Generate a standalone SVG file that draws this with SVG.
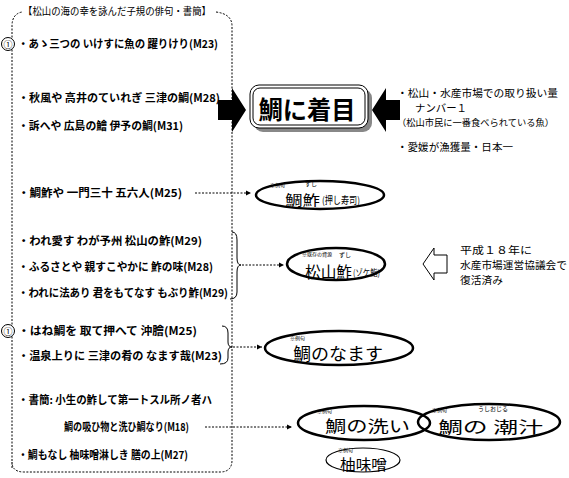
<svg xmlns="http://www.w3.org/2000/svg" width="569" height="478" viewBox="0 0 569 478">
<defs>
<style>
text{font-family:"Noto Sans CJK JP","Noto Sans CJK SC",sans-serif;fill:#000;}
.h{font-size:11px;font-weight:bold;}
.r{font-size:10.5px;}
.s{font-size:5px;}
.ru{font-size:6px;}
.el{fill:#fff;stroke:#000;stroke-width:2.5;}
.dash{fill:none;stroke:#000;stroke-width:1;stroke-dasharray:2,1.5;}
.conn{fill:none;stroke:#000;stroke-width:1;stroke-dasharray:2,1.5;}
.brace{fill:none;stroke:#000;stroke-width:1;}
</style>
<marker id="ah" markerWidth="6" markerHeight="6" refX="5" refY="3" orient="auto" markerUnits="userSpaceOnUse">
<path d="M0,0.5 L5,3 L0,5.5 z" fill="#000"/>
</marker>
</defs>
<rect width="569" height="478" fill="#fff"/>

<g id="panel">
<path class="dash" d="M12,468 L12,26 Q12,14 22,12 M216,12 Q232,14 232,26 L232,460 Q232,472 220,472 L24,472 Q12,472 12,462"/>
<text x="23" y="15" style="font-size:10px" textLength="188" lengthAdjust="spacingAndGlyphs">【松山の海の幸を詠んだ子規の俳句・書簡】</text>
</g>

<g id="haiku1">
<circle cx="8" cy="44" r="6.5" fill="#fff" stroke="#000" stroke-width="1"/>
<text x="8" y="47.5" style="font-size:9px" text-anchor="middle">①</text>
<text class="h" x="18" y="48" textLength="200" lengthAdjust="spacingAndGlyphs">・あゝ三つの いけすに魚の 躍りけり(M23)</text>
</g>
<g id="haiku2">
<text class="h" x="18" y="102" textLength="202" lengthAdjust="spacingAndGlyphs">・秋風や 高井のていれぎ 三津の鯛(M28)</text>
<text class="h" x="18" y="130" textLength="165" lengthAdjust="spacingAndGlyphs">・訴へや 広島の鱠 伊予の鯛(M31)</text>
</g>

<g id="focus">
<rect x="254" y="89" width="118" height="43" rx="9" fill="#888"/>
<rect x="250" y="85" width="118" height="43" rx="9" fill="#fff" stroke="#000" stroke-width="1"/>
<rect x="253" y="88" width="112" height="37" rx="7" fill="none" stroke="#000" stroke-width="1"/>
<text x="307" y="119" text-anchor="middle" style="font-size:25px;font-weight:bold" textLength="97" lengthAdjust="spacingAndGlyphs">鯛に着目</text>
</g>
<g id="arrowL"><path d="M218,100 L232,100 L232,88 L246,110 L232,132 L232,120 L218,120 z" fill="#000"/></g>
<g id="arrowR"><path d="M400,100 L386,100 L386,88 L372,110 L386,132 L386,120 L400,120 z" fill="#000"/></g>
<g id="facts">
<text class="r" x="397" y="97" textLength="161" lengthAdjust="spacingAndGlyphs">・松山・水産市場での取り扱い量</text>
<text class="r" x="415" y="112" textLength="52" lengthAdjust="spacingAndGlyphs">ナンバー１</text>
<text x="397" y="126" style="font-size:9.3px" textLength="157" lengthAdjust="spacingAndGlyphs">（松山市民に一番食べられている魚）</text>
<text class="r" x="397" y="151" textLength="116" lengthAdjust="spacingAndGlyphs">・愛媛が漁獲量・日本一</text>
</g>

<g id="haiku3">
<text class="h" x="18" y="197" textLength="164" lengthAdjust="spacingAndGlyphs">・鯛鮓や 一門三十 五六人(M25)</text>
</g>
<g id="haiku4">
<text class="h" x="18" y="245" textLength="184" lengthAdjust="spacingAndGlyphs">・われ愛す わが予州 松山の鮓(M29)</text>
<text class="h" x="18" y="271" textLength="195" lengthAdjust="spacingAndGlyphs">・ふるさとや 親すこやかに 鮓の味(M28)</text>
<text class="h" x="18" y="297" textLength="210" lengthAdjust="spacingAndGlyphs">・われに法あり 君をもてなす もぶり鮓(M29)</text>
</g>
<g id="haiku5">
<circle cx="8" cy="331" r="6.5" fill="#fff" stroke="#000" stroke-width="1"/>
<text x="8" y="334.5" style="font-size:9px" text-anchor="middle">①</text>
<text class="h" x="18" y="335" textLength="179" lengthAdjust="spacingAndGlyphs">・はね鯛を 取て押へて 沖膾(M25)</text>
<text class="h" x="18" y="360" textLength="204" lengthAdjust="spacingAndGlyphs">・温泉上りに 三津の肴の なます哉(M23)</text>
</g>
<g id="letters">
<text class="h" x="18" y="404" textLength="194" lengthAdjust="spacingAndGlyphs">・書簡: 小生の鮓して第一トスル所ノ者ハ</text>
<text class="h" x="64" y="431" textLength="125" lengthAdjust="spacingAndGlyphs">鯛の吸ひ物と洗ひ鯛なり(M18)</text>
<text class="h" x="18" y="459" textLength="170" lengthAdjust="spacingAndGlyphs">・鯛もなし 柚味噌淋しき 膳の上(M27)</text>
</g>

<g id="connectors">
<path class="brace" d="M232,232 Q237,232 237,240 L237,258 Q237,265 241,265 Q237,265 237,272 L237,292 Q237,299 230,299"/>
<path class="brace" d="M222,326 Q228,326 228,333 L228,342 Q228,347 232,347 Q228,347 228,352 L228,358 Q228,364 220,364"/>
<path class="conn" d="M195,193 L251,193" marker-end="url(#ah)"/>
<path class="conn" d="M242,265 L284,265" marker-end="url(#ah)"/>
<path class="conn" d="M233,347 L262,347" marker-end="url(#ah)"/>
<path class="conn" d="M205,427 L292,427" marker-end="url(#ah)"/>
</g>

<g id="sushi">
<ellipse class="el" cx="320" cy="195" rx="64" ry="14"/>
<text class="s" x="270" y="187">※例句</text>
<text class="ru" x="305" y="186">ずし</text>
<text x="285" y="205" style="font-size:14px" textLength="35" lengthAdjust="spacingAndGlyphs">鯛鮓</text>
<text x="322" y="204" style="font-size:10px" textLength="38" lengthAdjust="spacingAndGlyphs">(押し寿司)</text>
</g>
<g id="matsuyamazushi">
<ellipse class="el" cx="336" cy="264" rx="49" ry="16"/>
<text class="s" x="302" y="256">※既存の資源</text>
<text class="ru" x="339" y="257">ずし</text>
<text x="305" y="278" style="font-size:16px" textLength="47" lengthAdjust="spacingAndGlyphs">松山鮓</text>
<text x="353" y="276" style="font-size:9px" textLength="27" lengthAdjust="spacingAndGlyphs">(ゾケ鮨)</text>
</g>
<g id="revived">
<path d="M423,264 L434,248 L434,255 L447,255 L447,273 L434,273 L434,280 z" fill="#fff" stroke="#000" stroke-width="1"/>
<text class="r" x="460" y="254" textLength="72" lengthAdjust="spacingAndGlyphs">平成１８年に</text>
<text class="r" x="460" y="269" textLength="107" lengthAdjust="spacingAndGlyphs">水産市場運営協議会で</text>
<text class="r" x="460" y="284" textLength="43" lengthAdjust="spacingAndGlyphs">復活済み</text>
</g>
<g id="namasu">
<ellipse class="el" cx="339" cy="348" rx="74" ry="17"/>
<text class="s" x="290" y="340">※例句</text>
<text x="293" y="360" style="font-size:17px" textLength="90" lengthAdjust="spacingAndGlyphs">鯛のなます</text>
</g>
<g id="arai">
<ellipse class="el" cx="364" cy="423" rx="66" ry="17"/>
<text class="s" x="317" y="413">※例句</text>
<text x="325" y="432" style="font-size:16px" textLength="85" lengthAdjust="spacingAndGlyphs">鯛の洗い</text>
</g>
<g id="ushiojiru">
<ellipse class="el" cx="489" cy="422" rx="71" ry="18" style="fill:none"/>
<text class="s" x="432" y="412">※例句</text>
<text class="ru" x="478" y="411" textLength="30" lengthAdjust="spacingAndGlyphs">うしおじる</text>
<text x="438" y="433" style="font-size:16px" textLength="105" lengthAdjust="spacingAndGlyphs">鯛の 潮汁</text>
</g>
<g id="yuzumiso">
<ellipse cx="363" cy="460" rx="37" ry="12" fill="#fff" stroke="#000" stroke-width="1.2"/>
<text class="s" x="338" y="452">※例句</text>
<text x="340" y="470" style="font-size:15px" textLength="47" lengthAdjust="spacingAndGlyphs">柚味噌</text>
</g>
</svg>
